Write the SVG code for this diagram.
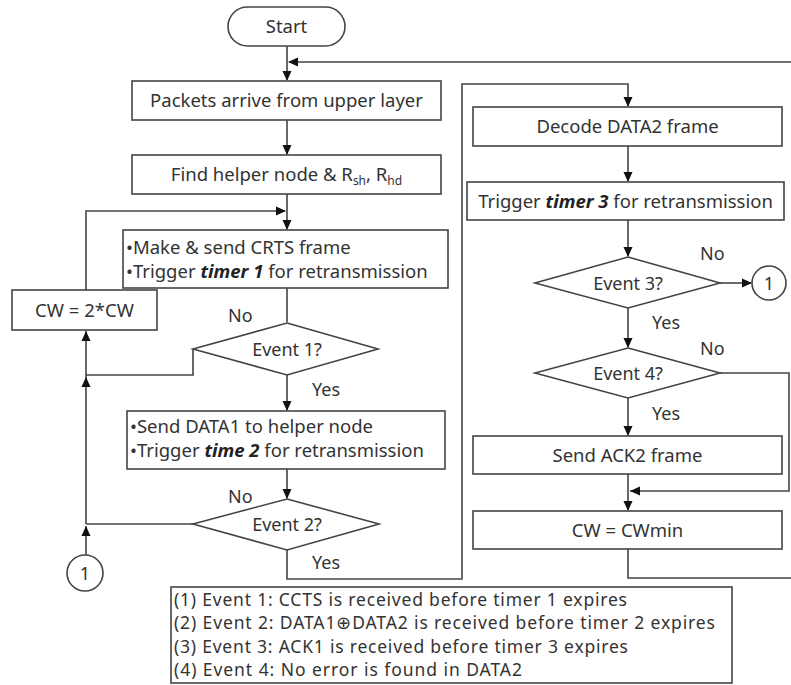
<svg xmlns="http://www.w3.org/2000/svg" width="791" height="685" viewBox="0 0 791 685">
<style>
.box{fill:#fff;stroke:#444;stroke-width:1.6}
.ln{fill:none;stroke:#444;stroke-width:1.6}
.ah{fill:#111;stroke:none}
text{font-family:"Noto Sans","Open Sans",sans-serif;font-size:18.5px;fill:#333}
.c{text-anchor:middle}
.bi{font-weight:bold;font-style:italic;fill:#222}
.sub{font-size:12px}
.q{font-size:18px}
.lg{font-size:17.5px}
</style>
<rect width="791" height="685" fill="#fff"/>

<g id="connectors">
<path class="ln" d="M287,46 V80"/>
<path class="ln" d="M791,62 H289"/>
<path class="ln" d="M287,120 V154"/>
<path class="ln" d="M287,194 V229"/>
<path class="ln" d="M86,290 V211 H285"/>
<path class="ln" d="M287,288 V322"/>
<path class="ln" d="M193,349 V375 H86"/>
<path class="ln" d="M86,524 V331"/>
<path class="ln" d="M287,375 V410"/>
<path class="ln" d="M287,469 V498"/>
<path class="ln" d="M193,524 H86"/>
<path class="ln" d="M86,555 V526"/>
<path class="ln" d="M287,550 V579 H462 V84 H628 V106"/>
<path class="ln" d="M628,146 V181"/>
<path class="ln" d="M628,220 V256"/>
<path class="ln" d="M720,283 H751"/>
<path class="ln" d="M628,308 V347"/>
<path class="ln" d="M628,398 V435"/>
<path class="ln" d="M720,373 H789 V491 H630"/>
<path class="ln" d="M628,474 V510"/>
<path class="ln" d="M628,549 V578 H791"/>
<polygon class="ah" points="282.5,71 291.5,71 287,81"/>
<polygon class="ah" points="298,57.5 298,66.5 288,62"/>
<polygon class="ah" points="282.5,145 291.5,145 287,155"/>
<polygon class="ah" points="276,206.5 276,215.5 286,211"/>
<polygon class="ah" points="282.5,220 291.5,220 287,230"/>
<polygon class="ah" points="81.5,387 90.5,387 86,377"/>
<polygon class="ah" points="81.5,341 90.5,341 86,331"/>
<polygon class="ah" points="282.5,401 291.5,401 287,411"/>
<polygon class="ah" points="282.5,489 291.5,489 287,499"/>
<polygon class="ah" points="81.5,536 90.5,536 86,526"/>
<polygon class="ah" points="623.5,97 632.5,97 628,107"/>
<polygon class="ah" points="623.5,172 632.5,172 628,182"/>
<polygon class="ah" points="623.5,247 632.5,247 628,257"/>
<polygon class="ah" points="742,278.5 742,287.5 752,283"/>
<polygon class="ah" points="623.5,338 632.5,338 628,348"/>
<polygon class="ah" points="623.5,426 632.5,426 628,436"/>
<polygon class="ah" points="640,486.5 640,495.5 630,491"/>
<polygon class="ah" points="623.5,501 632.5,501 628,511"/>
</g>

<g id="start">
<rect class="box" x="228" y="7" width="117" height="39" rx="19.5"/>
<text class="c" x="286.5" y="33">Start</text>
</g>

<g id="packets">
<rect class="box" x="132" y="81" width="309" height="39"/>
<text class="c" x="286.5" y="107">Packets arrive from upper layer</text>
</g>

<g id="findhelper">
<rect class="box" x="132" y="155" width="309" height="39"/>
<text class="c" x="286.5" y="181">Find helper node &amp; R<tspan class="sub" dy="4">sh</tspan><tspan dy="-4">, R</tspan><tspan class="sub" dy="4">hd</tspan></text>
</g>

<g id="crts">
<rect class="box" x="123" y="230" width="325" height="58"/>
<text x="126" y="254">•Make &amp; send CRTS frame</text>
<text x="126" y="278">•Trigger <tspan class="bi">timer 1</tspan> for retransmission</text>
</g>

<g id="cw2">
<rect class="box" x="12" y="290" width="145" height="40"/>
<text class="c" x="84.5" y="317">CW = 2*CW</text>
</g>

<g id="event1">
<polygon class="box" points="287,323 378,349 287,375 193,349"/>
<text class="c q" x="287" y="356">Event 1?</text>
<text class="q" x="228" y="322">No</text>
<text class="q" x="312" y="396">Yes</text>
</g>

<g id="data1">
<rect class="box" x="127" y="411" width="318" height="58"/>
<text x="130" y="433">•Send DATA1 to helper node</text>
<text x="130" y="457">•Trigger <tspan class="bi">time 2</tspan> for retransmission</text>
</g>

<g id="event2">
<polygon class="box" points="287,499 379,524 287,550 193,524"/>
<text class="c q" x="287" y="531">Event 2?</text>
<text class="q" x="228" y="503">No</text>
<text class="q" x="312" y="569">Yes</text>
</g>

<g id="conn1left">
<circle class="box" cx="85" cy="573" r="18"/>
<text class="c q" x="85" y="580">1</text>
</g>

<g id="decode">
<rect class="box" x="473" y="107" width="309" height="39"/>
<text class="c" x="627.5" y="133">Decode DATA2 frame</text>
</g>

<g id="timer3">
<rect class="box" x="467" y="182" width="317" height="38"/>
<text class="c" x="625.5" y="208">Trigger <tspan class="bi">timer 3</tspan> for retransmission</text>
</g>

<g id="event3">
<polygon class="box" points="628,257 720,283 628,308 535,283"/>
<text class="c q" x="628" y="290">Event 3?</text>
<text class="q" x="700" y="260">No</text>
<text class="q" x="652" y="329">Yes</text>
</g>

<g id="conn1right">
<circle class="box" cx="769" cy="283" r="17"/>
<text class="c q" x="769" y="290">1</text>
</g>

<g id="event4">
<polygon class="box" points="628,348 720,373 628,398 535,373"/>
<text class="c q" x="628" y="380">Event 4?</text>
<text class="q" x="700" y="355">No</text>
<text class="q" x="652" y="420">Yes</text>
</g>

<g id="ack2">
<rect class="box" x="473" y="436" width="309" height="38"/>
<text class="c" x="627.5" y="462">Send ACK2 frame</text>
</g>

<g id="cwmin">
<rect class="box" x="473" y="511" width="309" height="38"/>
<text class="c" x="627.5" y="537">CW = CWmin</text>
</g>

<g id="legend">
<rect class="box" x="171" y="587" width="561" height="96"/>
<text class="lg" x="174" y="606" textLength="453" lengthAdjust="spacing">(1) Event 1: CCTS is received before timer 1 expires</text>
<text class="lg" x="174" y="629" textLength="541" lengthAdjust="spacing">(2) Event 2: DATA1⊕DATA2 is received before timer 2 expires</text>
<text class="lg" x="174" y="653" textLength="454" lengthAdjust="spacing">(3) Event 3: ACK1 is received before timer 3 expires</text>
<text class="lg" x="174" y="676" textLength="348" lengthAdjust="spacing">(4) Event 4: No error is found in DATA2</text>
</g>
</svg>
